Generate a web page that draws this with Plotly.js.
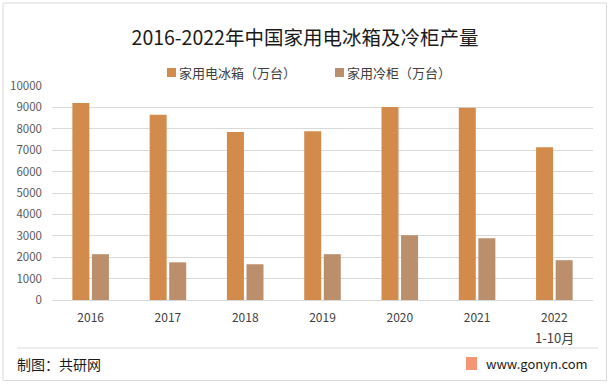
<!DOCTYPE html>
<html>
<head>
<meta charset="utf-8">
<script src="https://cdn.plot.ly/plotly-3.0.1.min.js"></script>
<style>
html,body{margin:0;padding:0;background:#fff;}
#chart{width:610px;height:385px;}
</style>
</head>
<body>
<div id="chart"></div>
<script>
const categories = ["2016", "2017", "2018", "2019", "2020", "2021", "2022"];
const categoryNotes = ["", "", "", "", "", "", "1-10月"];
const fridgeName = "家用电冰箱（万台）";
const freezerName = "家用冷柜（万台）";
const fridgeValues = [9200, 8660, 7850, 7890, 9015, 8980, 7140];
const freezerValues = [2140, 1760, 1670, 2140, 3030, 2890, 1860];
const yTicks = [0, 1000, 2000, 3000, 4000, 5000, 6000, 7000, 8000, 9000, 10000];

const font = "'Noto Sans CJK SC', 'Noto Sans', sans-serif";
const fridgeColor = "#D38B4C";
const freezerColor = "#BB8E6C";

const W = 541, H = 214, L = 52, T = 86;
const px = x => (x - L) / W;
const py = y => (T + H - y) / H;

const traces = [
  {type: "bar", name: fridgeName, x: categories, y: fridgeValues,
   marker: {color: fridgeColor}, hoverinfo: "skip"},
  {type: "bar", name: freezerName, x: categories, y: freezerValues,
   marker: {color: freezerColor}, hoverinfo: "skip"}
];

const annotations = [
  {text: "制图：共研网", xref: "paper", yref: "paper", x: px(15), y: py(364),
   xanchor: "left", yanchor: "middle", showarrow: false,
   font: {family: font, size: 14, color: "#1a1a1a"}},
  {text: "www.gonyn.com", xref: "paper", yref: "paper", x: px(484), y: py(363),
   xanchor: "left", yanchor: "middle", showarrow: false,
   font: {family: font, size: 13, color: "#1a1a1a"}},
  {text: fridgeName, xref: "paper", yref: "paper", x: px(177), y: py(72.5),
   xanchor: "left", yanchor: "middle", showarrow: false,
   font: {family: font, size: 13, color: "#404040"}},
  {text: freezerName, xref: "paper", yref: "paper", x: px(345), y: py(72.5),
   xanchor: "left", yanchor: "middle", showarrow: false,
   font: {family: font, size: 13, color: "#404040"}}
];
categories.forEach((c, i) => {
  if (categoryNotes[i]) {
    annotations.push({text: categoryNotes[i], xref: "x", yref: "paper", x: i, y: py(337),
      xanchor: "center", yanchor: "middle", showarrow: false,
      font: {family: font, size: 13, color: "#404040"}});
  }
});

const layout = {
  width: 610, height: 385,
  margin: {l: L, r: 610 - L - W, t: T, b: 385 - T - H},
  paper_bgcolor: "#ffffff",
  plot_bgcolor: "#ffffff",
  font: {family: font, color: "#404040", size: 11},
  title: {text: "2016-2022年中国家用电冰箱及冷柜产量", x: 0.5, xanchor: "center",
          y: 1 - 38/385, yref: "container", yanchor: "middle",
          font: {family: font, size: 19.5, color: "#1a1a1a"}},
  barmode: "group",
  bargap: 0.494,
  bargroupgap: 0.13,
  showlegend: false,
  xaxis: {type: "category", range: [-0.5, categories.length - 0.5],
          showgrid: false, showline: true, linecolor: "#d9d9d9",
          linewidth: 1, ticks: "", ticklabelstandoff: 7,
          tickfont: {family: font, size: 12, color: "#404040"}, fixedrange: true},
  yaxis: {range: [0, 10000], tickvals: yTicks, ticktext: yTicks.map(String),
          showgrid: true, gridcolor: "#d9d9d9", gridwidth: 1, zeroline: false,
          showline: false, ticks: "", ticklabelstandoff: 9,
          tickfont: {family: font, size: 11.5, color: "#595959"}, fixedrange: true},
  shapes: [
    {type: "rect", xref: "paper", yref: "paper", x0: px(3), x1: px(606.5),
     y0: py(380.5), y1: py(3), line: {color: "#d9d9d9", width: 1}},
    {type: "line", xref: "paper", yref: "paper", x0: px(17), x1: px(598),
     y0: py(348), y1: py(348), line: {color: "#d9d9d9", width: 1}},
    {type: "rect", xref: "paper", yref: "paper", x0: px(167), x1: px(176),
     y0: py(77), y1: py(68), line: {width: 0}, fillcolor: fridgeColor},
    {type: "rect", xref: "paper", yref: "paper", x0: px(335), x1: px(344),
     y0: py(77), y1: py(68), line: {width: 0}, fillcolor: freezerColor},
    {type: "rect", xref: "paper", yref: "paper", x0: px(466), x1: px(477),
     y0: py(370), y1: py(357), line: {width: 0}, fillcolor: "#F3835A", opacity: 0.85}
  ],
  annotations: annotations
};

Plotly.newPlot("chart", traces, layout, {displayModeBar: false, staticPlot: true});
</script>
</body>
</html>
